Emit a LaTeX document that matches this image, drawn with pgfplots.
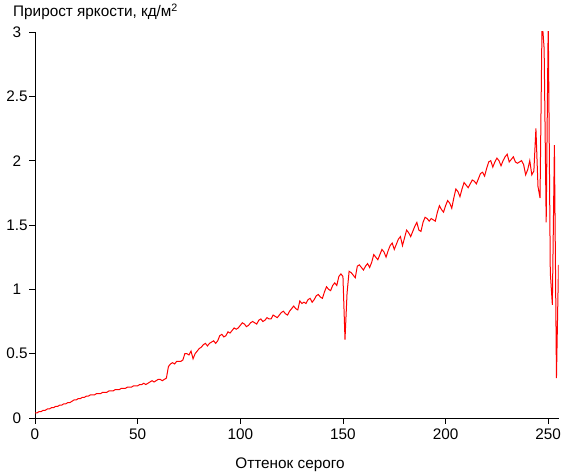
\documentclass[border=0pt]{standalone}
\usepackage{pgfplots}
\pgfplotsset{compat=1.18}
\usepackage{fontspec}
\setmainfont{Liberation Sans}
\begin{document}
\begin{tikzpicture}
\begin{axis}[
  scale only axis,
  width=523.5pt, height=386pt,
  xmin=0, xmax=255, ymin=0, ymax=3,
  axis lines=left,
  axis line style={-, line width=0.8pt},
  tick style={black, line width=0.8pt},
  tick align=outside,
  major tick length=5.5pt,
  xtick={0,50,100,150,200,250},
  ytick={0,0.5,1,1.5,2,2.5,3},
  /pgf/number format/assume math mode=true,
  tick label style={font=\fontsize{15.3}{17}\selectfont},
  xticklabel style={yshift=-2pt},
  yticklabel style={anchor=center, xshift=-12.5pt},
]
\addplot[red, line width=1pt] table {
x y
0 0.04
1 0.04
2 0.05
3 0.05
4 0.06
5 0.06
6 0.07
7 0.07
8 0.08
9 0.08
10 0.09
11 0.09
12 0.10
13 0.10
14 0.11
15 0.11
16 0.12
17 0.12
18 0.13
19 0.14
20 0.14
21 0.15
22 0.15
23 0.16
24 0.16
25 0.17
26 0.17
27 0.18
28 0.18
29 0.18
30 0.19
31 0.19
32 0.19
33 0.20
34 0.20
35 0.20
36 0.21
37 0.21
38 0.21
39 0.22
40 0.22
41 0.22
42 0.23
43 0.23
44 0.23
45 0.24
46 0.24
47 0.24
48 0.25
49 0.25
50 0.25
51 0.26
52 0.26
53 0.27
54 0.26
55 0.27
56 0.28
57 0.29
58 0.28
59 0.29
60 0.30
61 0.30
62 0.29
63 0.30
64 0.31
65 0.40
66 0.42
67 0.43
68 0.42
69 0.44
70 0.44
71 0.44
72 0.45
73 0.50
74 0.50
75 0.49
76 0.52
77 0.46
78 0.50
79 0.52
80 0.54
81 0.55
82 0.57
83 0.58
84 0.56
85 0.58
86 0.59
87 0.60
88 0.58
89 0.60
90 0.64
91 0.65
92 0.63
93 0.64
94 0.67
95 0.66
96 0.68
97 0.70
98 0.69
99 0.70
100 0.72
101 0.74
102 0.73
103 0.71
104 0.72
105 0.74
106 0.75
107 0.74
108 0.73
109 0.76
110 0.77
111 0.75
112 0.76
113 0.78
114 0.77
115 0.77
116 0.80
117 0.79
118 0.78
119 0.80
120 0.82
121 0.83
122 0.81
123 0.80
124 0.83
125 0.85
126 0.87
127 0.85
128 0.84
129 0.91
130 0.89
131 0.90
132 0.89
133 0.92
134 0.93
135 0.90
136 0.92
137 0.95
138 0.96
139 0.94
140 0.93
141 0.98
142 1.02
143 1.00
144 0.99
145 1.03
146 1.05
147 1.03
148 1.10
149 1.12
150 1.10
151 0.61
152 0.97
153 1.14
154 1.13
155 1.11
156 1.09
157 1.18
158 1.19
159 1.17
160 1.15
161 1.18
162 1.20
163 1.17
164 1.21
165 1.27
166 1.25
167 1.23
168 1.27
169 1.31
170 1.29
171 1.25
172 1.30
173 1.34
174 1.36
175 1.31
176 1.35
177 1.39
178 1.41
179 1.34
180 1.40
181 1.46
182 1.44
183 1.41
184 1.45
185 1.49
186 1.52
187 1.46
188 1.45
189 1.52
190 1.56
191 1.55
192 1.53
193 1.55
194 1.54
195 1.53
196 1.60
197 1.65
198 1.62
199 1.60
200 1.65
201 1.69
202 1.67
203 1.63
204 1.71
205 1.78
206 1.76
207 1.72
208 1.78
209 1.83
210 1.81
211 1.79
212 1.82
213 1.85
214 1.84
215 1.82
216 1.86
217 1.90
218 1.91
219 1.88
220 1.94
221 1.99
222 2.00
223 1.95
224 1.99
225 2.02
226 2.00
227 1.96
228 2.00
229 2.03
230 2.05
231 1.99
232 2.01
233 2.03
234 1.99
235 1.98
236 1.99
237 2.00
238 1.97
239 1.89
240 1.93
241 2.00
242 1.89
243 1.92
244 2.25
245 1.80
246 1.71
247 3.10
248 2.87
249 1.52
250 3.10
251 1.13
252 0.88
253 2.12
254 0.31
255 1.19
};
\end{axis}
\node[anchor=base west, inner sep=0pt, font=\fontsize{15.3}{17}\selectfont]
  at ([shift={(-22pt,401pt)}]current axis.south west) {Прирост яркости, кд/м\textsuperscript{2}};
\node[anchor=base, inner sep=0pt, font=\fontsize{15.3}{17}\selectfont]
  at ([shift={(255pt,-50pt)}]current axis.south west) {Оттенок серого};
\pgfresetboundingbox
\path ([shift={(-35pt,-53pt)}]current axis.south west) rectangle ++(561pt,471pt);
\end{tikzpicture}
\end{document}
